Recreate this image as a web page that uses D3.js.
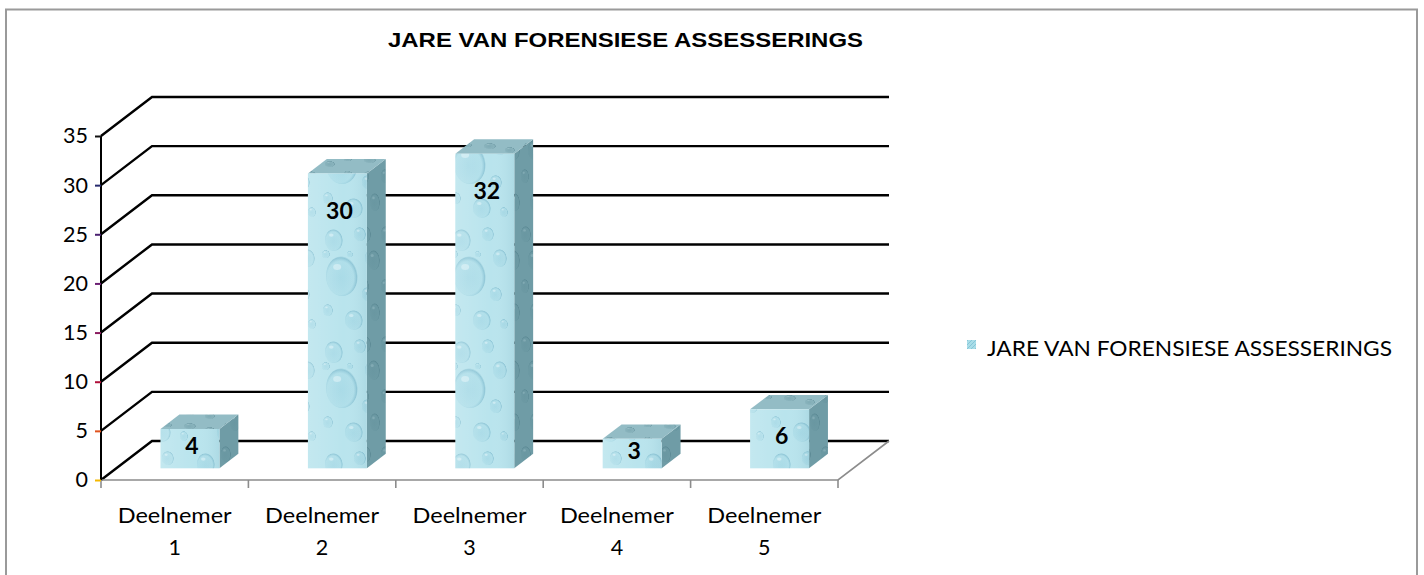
<!DOCTYPE html>
<html><head><meta charset="utf-8">
<script src="https://cdn.jsdelivr.net/npm/d3@7"></script>
<style>html,body{margin:0;padding:0;background:#fff;}svg{display:block;}</style>
</head><body>
<svg id="c" width="1424" height="575"></svg>
<script>
const chartTitle = "JARE VAN FORENSIESE ASSESSERINGS";
const seriesName = "JARE VAN FORENSIESE ASSESSERINGS";
const categories = ["Deelnemer 1","Deelnemer 2","Deelnemer 3","Deelnemer 4","Deelnemer 5"];
const values = [4, 30, 32, 3, 6];
const yTicks = [0, 5, 10, 15, 20, 25, 30, 35];
const tickColors = ["#f5b800","#e0531e","#b0103a","#8a1a5e","#6b1f73","#4a2070","#262a6e","#111111"];

const svg = d3.select("#c");
const DX = 51, DY = -39;       // depth of the 3D box
const F0 = 0.30, F1 = 0.67;    // bar depth span
const FONT = "Lato, 'Open Sans', sans-serif";

const x = d3.scaleBand().domain(categories).range([101, 838]).paddingInner(0.6).paddingOuter(0.3);
const y = d3.scaleLinear().domain([0, 35]).range([480, 136]);
const step = x.step(), bw = x.bandwidth();

// border
svg.append("rect").attr("x", 6).attr("y", 9.5).attr("width", 1411).attr("height", 600)
  .attr("fill", "#fff").attr("stroke", "#9a9a9a").attr("stroke-width", 2);

// defs: textures
const defs = svg.append("defs");
function dropGrad(id, edge, mid) {
  const rg = defs.append("radialGradient").attr("id", id).attr("cx", 0.45).attr("cy", 0.55).attr("r", 0.55);
  rg.append("stop").attr("offset", 0).attr("stop-color", mid).attr("stop-opacity", 0.35);
  rg.append("stop").attr("offset", 0.75).attr("stop-color", mid).attr("stop-opacity", 0.2);
  rg.append("stop").attr("offset", 0.92).attr("stop-color", edge).attr("stop-opacity", 0.55);
  rg.append("stop").attr("offset", 1).attr("stop-color", edge).attr("stop-opacity", 0);
}
dropGrad("dropF", "#6fb0c6", "#8ccadc");
dropGrad("dropS", "#4d7c88", "#5f8e99");
function dropPattern(id, base, grad, hi, w, h, drops) {
  const p = defs.append("pattern").attr("id", id).attr("patternUnits", "userSpaceOnUse")
    .attr("width", w).attr("height", h);
  p.append("rect").attr("width", w).attr("height", h).attr("fill", base);
  drops.forEach(([cx, cy, rx, ry]) => {
    p.append("ellipse").attr("cx", cx).attr("cy", cy).attr("rx", rx).attr("ry", ry)
      .attr("fill", `url(#${grad})`);
    p.append("ellipse").attr("cx", cx - rx * 0.3).attr("cy", cy - ry * 0.45).attr("rx", rx * 0.25).attr("ry", ry * 0.15)
      .attr("fill", hi).attr("opacity", 0.45);
  });
}
const frontDrops = [[14,16,9,11],[40,10,6,7],[52,34,7,9],[22,52,16,20],[48,70,6,7],[8,86,5,6],[34,96,9,10],[56,100,4,5],[6,30,4,4],[30,30,3,3]];
const sideDrops = [[6,14,5,8],[14,40,6,10],[5,66,4,7],[15,92,5,9]];
const topDrops = [[10,6,6,3],[30,10,5,3],[48,5,4,2]];
dropPattern("frontTex", "#b9e4ed", "dropF", "#f0fbfd", 64, 112, frontDrops);
dropPattern("sideTex", "#6f9ca6", "dropS", "#9cc0c8", 20, 110, sideDrops);
dropPattern("topTex", "#93bcc5", "dropS", "#c0dde3", 60, 14, topDrops);
const lg = defs.append("linearGradient").attr("id", "shade").attr("x1", 0).attr("x2", 1).attr("y1", 0).attr("y2", 0);
lg.append("stop").attr("offset", 0).attr("stop-color", "#ffffff").attr("stop-opacity", 0.15);
lg.append("stop").attr("offset", 0.6).attr("stop-color", "#ffffff").attr("stop-opacity", 0);
lg.append("stop").attr("offset", 1).attr("stop-color", "#3d7f95").attr("stop-opacity", 0.10);
const lp = defs.append("pattern").attr("id", "legTex").attr("patternUnits", "userSpaceOnUse").attr("width", 4).attr("height", 4);
lp.append("rect").attr("width", 4).attr("height", 4).attr("fill", "#a9dde8");
lp.append("path").attr("d", "M0,4 L4,0").attr("stroke", "#86c6d8").attr("stroke-width", 1);

// title
svg.append("text").attr("x", 625.5).attr("y", 46.5).attr("text-anchor", "middle")
  .attr("font-family", "'Liberation Sans', Arimo, Arial, sans-serif").attr("font-weight", "bold")
  .attr("font-size", 20.5).attr("fill", "#000")
  .attr("textLength", 475).attr("lengthAdjust", "spacingAndGlyphs").text(chartTitle);

// gridlines (side wall + back wall)
const x0 = x.range()[0], x1 = x.range()[1];
const grid = svg.append("g");
yTicks.forEach(t => {
  const yy = y(t);
  grid.append("path")
    .attr("d", `M${x0},${yy} L${x0 + DX},${yy + DY} L${x1 + DX},${yy + DY}`)
    .attr("fill", "none").attr("stroke", "#000").attr("stroke-width", 2.4);
});

// floor front and right edges
svg.append("path").attr("d", `M${x0},${y(0)} L${x1},${y(0)} L${x1 + DX},${y(0) + DY}`)
  .attr("fill", "none").attr("stroke", "#8c8c8c").attr("stroke-width", 1.6);
// category boundary ticks
const bounds = categories.map(c => x(c) - step * x.paddingInner() / 2).concat([x1]);
bounds[0] = x0;
svg.append("g").selectAll("line").data(bounds).join("line")
  .attr("x1", d => d).attr("x2", d => d).attr("y1", y(0)).attr("y2", y(0) + 8)
  .attr("stroke", "#8c8c8c").attr("stroke-width", 1.6);

// y axis
const yAxis = svg.append("g").attr("transform", `translate(${x0},0)`)
  .call(d3.axisLeft(y).tickValues(yTicks).tickSize(6).tickPadding(7));
yAxis.select(".domain").attr("stroke", "#000").attr("stroke-width", 2).attr("d", `M0,${y(35)}V${y(0)}`);
yAxis.selectAll(".tick line").attr("stroke", (d, i) => tickColors[i]).attr("stroke-width", 2);
yAxis.selectAll(".tick text").attr("font-family", FONT).attr("font-size", 21.5).attr("fill", "#000");

// bars
const bars = svg.append("g");
const d = (F1 - F0) * DX, dd = (F1 - F0) * DY;
categories.forEach((c, i) => {
  const v = values[i];
  const xl = x(c) + F0 * DX, xr = xl + bw;
  const yb = y(0) + F0 * DY, yt = y(v) + F0 * DY;
  const g = bars.append("g");
  g.append("polygon").attr("points", `${xr},${yb} ${xr},${yt} ${xr + d},${yt + dd} ${xr + d},${yb + dd}`)
    .attr("fill", "url(#sideTex)");
  g.append("polygon").attr("points", `${xl},${yt} ${xr},${yt} ${xr + d},${yt + dd} ${xl + d},${yt + dd}`)
    .attr("fill", "url(#topTex)");
  g.append("rect").attr("x", xl).attr("y", yt).attr("width", bw).attr("height", yb - yt)
    .attr("fill", "url(#frontTex)");
  g.append("rect").attr("x", xl).attr("y", yt).attr("width", bw).attr("height", yb - yt)
    .attr("fill", "url(#shade)");
  const ly = Math.min(yt + 37, (yt + yb) / 2 - 3);
  g.append("text").attr("x", xl + bw / 2 + 2).attr("y", ly).attr("dy", "0.36em")
    .attr("text-anchor", "middle").attr("font-family", FONT).attr("font-weight", "bold")
    .attr("font-size", 23).attr("fill", "#000").text(v);
});

// category labels
const cl = svg.append("g");
categories.forEach(c => {
  const parts = c.split(" ");
  const cx = x(c) + bw / 2;
  const t = cl.append("text").attr("text-anchor", "middle").attr("font-family", FONT)
    .attr("font-size", 21.5).attr("fill", "#000");
  t.append("tspan").attr("x", cx).attr("y", 523).attr("textLength", 114).attr("lengthAdjust", "spacingAndGlyphs").text(parts[0]);
  t.append("tspan").attr("x", cx).attr("y", 555).text(parts[1]);
});

// legend
svg.append("rect").attr("x", 967).attr("y", 340).attr("width", 9).attr("height", 9).attr("fill", "url(#legTex)");
svg.append("text").attr("x", 987).attr("y", 355.5).attr("font-family", FONT).attr("font-size", 21.5)
  .attr("fill", "#000").attr("textLength", 405).attr("lengthAdjust", "spacingAndGlyphs").text(seriesName);
</script>
</body></html>
